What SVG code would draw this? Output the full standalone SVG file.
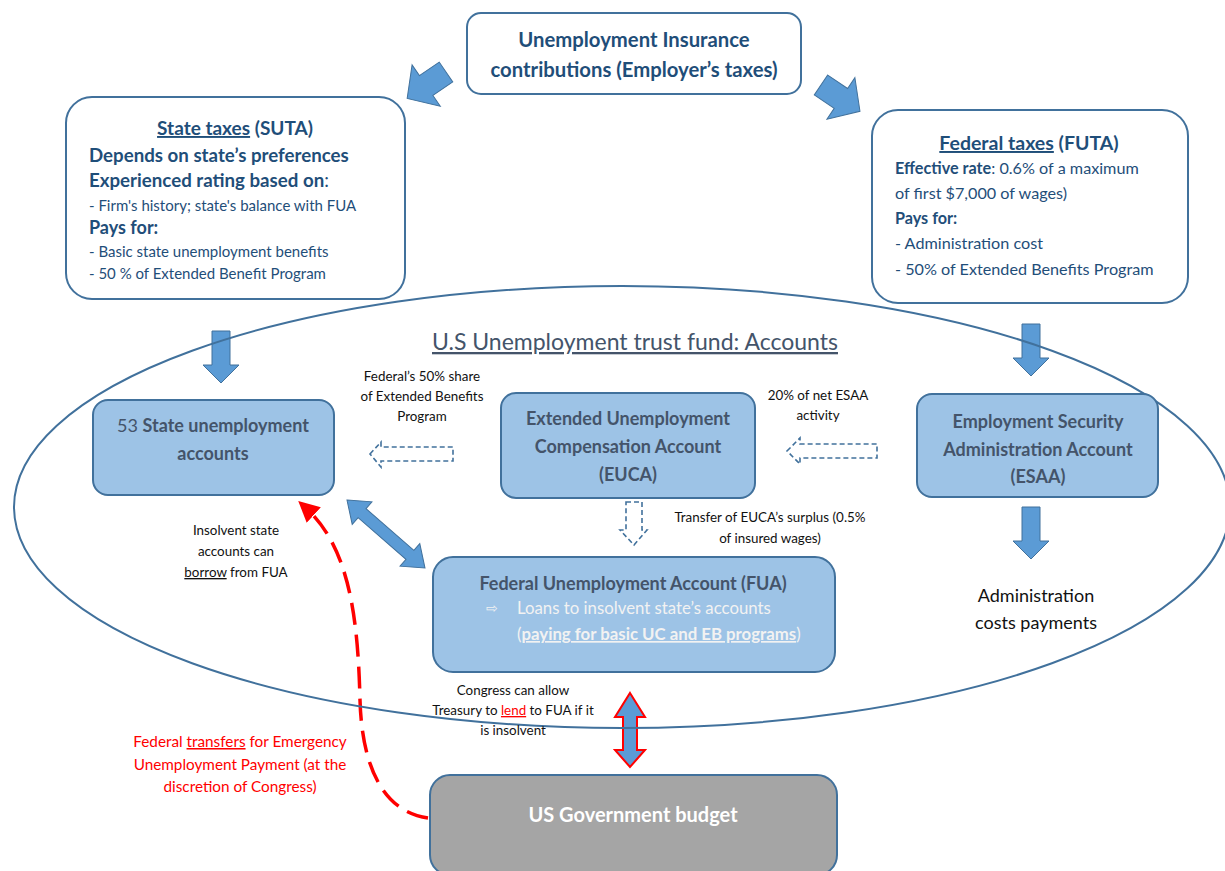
<svg xmlns="http://www.w3.org/2000/svg" width="1225" height="871" viewBox="0 0 1225 871">
  <style>
    text { font-family: Lato, "Liberation Sans", sans-serif; }
    .frame { fill: #ffffff; stroke: #41719C; stroke-width: 2; }
    .acct { fill: #9DC3E6; stroke: #41719C; stroke-width: 2; }
    .budget { fill: #A5A5A5; stroke: #41719C; stroke-width: 2; }
    .navy { fill: #1F4E79; }
    .slate { fill: #44546A; }
    .note { fill: #111111; font-size: 13.4px; }
    .red { fill: #FF0000; }
    .block { fill: #5B9BD5; stroke: #41719C; stroke-width: 1; }
    .hollow { fill: none; stroke: #41719C; stroke-width: 1.6; stroke-dasharray: 5 3; }
    .b { font-weight: bold; }
    .u { text-decoration: underline; }
  </style>
  <defs>
    <!-- short block arrow pointing down, tail at origin -->
    <path id="arrowDown" d="M-9,0 L9,0 L9,34 L18,34 L0,52 L-18,34 L-9,34 Z"/>
    <!-- wide block arrow pointing along +x, tail at origin -->
    <path id="arrowWide" d="M0,-12 L24,-12 L24,-25 L47,0 L24,25 L24,12 L0,12 Z"/>
    <marker id="redHead" markerWidth="6" markerHeight="6" refX="3" refY="3" orient="auto" markerUnits="strokeWidth">
      <path d="M0,0 L6,3 L0,6 Z" fill="#FF0000"/>
    </marker>
  </defs>

  <!-- flows -->
  <g id="connectors">
    <use href="#arrowWide" class="block" transform="translate(446,72) rotate(145.7)"/>
    <use href="#arrowWide" class="block" transform="translate(821,85) rotate(34)"/>
    <use href="#arrowDown" class="block" transform="translate(221,331)"/>
    <use href="#arrowDown" class="block" transform="translate(1031,324)"/>
    <use href="#arrowDown" class="block" transform="translate(1031,507)"/>
    <!-- EUCA to state accounts -->
    <polygon class="hollow" points="370,454 381,442 381,447 453,447 453,461 381,461 381,467"/>
    <!-- ESAA to EUCA -->
    <polygon class="hollow" points="787,451 800,438 800,444 877,444 877,458 800,458 800,464"/>
    <!-- EUCA surplus to FUA -->
    <polygon class="hollow" points="626,502 642,502 642,530 647,530 634,545 620,530 626,530"/>
    <!-- state accounts <-> FUA -->
    <polygon class="block" transform="translate(347,500) rotate(41.1)" points="0,0 20,-15 20,-6 83.5,-6 83.5,-15 103.5,0 83.5,15 83.5,6 20,6 20,15"/>
    <!-- FUA <-> government budget -->
    <polygon fill="#5B9BD5" stroke="#FF0000" stroke-width="2" points="630,693 645,717 637,717 637,750 645,750 630,767 615,750 623,750 623,717 615,717"/>
    <!-- emergency transfers -->
    <path d="M428,818 C385,812 362,770 360,700 C358,620 350,548 306,508" fill="none" stroke="#FF0000" stroke-width="3.5" stroke-dasharray="22 10" marker-end="url(#redHead)"/>
  </g>

  <!-- trust fund boundary -->
  <g id="trust-fund">
    <ellipse cx="622" cy="507" rx="608" ry="221" fill="none" stroke="#41719C" stroke-width="2"/>
    <text x="635" y="350" font-size="23" class="slate u" text-anchor="middle">U.S Unemployment trust fund: Accounts</text>
  </g>

  <g id="contributions">
    <rect class="frame" x="467" y="13" width="334" height="81" rx="14"/>
    <text x="634" y="47" font-size="20.3" class="navy b" text-anchor="middle">Unemployment Insurance</text>
    <text x="634" y="77" font-size="20.3" class="navy b" text-anchor="middle">contributions (Employer’s taxes)</text>
  </g>

  <g id="suta">
    <rect class="frame" x="66" y="97" width="339" height="202" rx="26"/>
    <text x="235" y="135" font-size="19" class="navy b" text-anchor="middle"><tspan class="u">State taxes</tspan> (SUTA)</text>
    <text x="89" y="162" font-size="18.7" class="navy b">Depends on state’s preferences</text>
    <text x="89" y="187" font-size="18.7" class="navy"><tspan class="b">Experienced rating based on</tspan>:</text>
    <text x="89" y="211" font-size="15" class="navy">- Firm's history; state's balance with FUA</text>
    <text x="89" y="234" font-size="18" class="navy b">Pays for:</text>
    <text x="89" y="257" font-size="15" class="navy">- Basic state unemployment benefits</text>
    <text x="89" y="279" font-size="15" class="navy">- 50 % of Extended Benefit Program</text>
  </g>

  <g id="futa">
    <rect class="frame" x="872" y="110" width="316" height="193" rx="26"/>
    <text x="1029" y="150" font-size="19.5" class="navy b" text-anchor="middle"><tspan class="u">Federal taxes</tspan> (FUTA)</text>
    <text x="895" y="174" font-size="16.2" class="navy"><tspan class="b">Effective rate</tspan>: 0.6% of a maximum</text>
    <text x="895" y="199" font-size="16.2" class="navy">of first $7,000 of wages)</text>
    <text x="895" y="224" font-size="16.2" class="navy b">Pays for:</text>
    <text x="895" y="249" font-size="16.2" class="navy">- Administration cost</text>
    <text x="895" y="275" font-size="16.2" class="navy">- 50% of Extended Benefits Program</text>
  </g>

  <g id="state-accounts">
    <rect class="acct" x="93" y="400" width="241" height="95" rx="15"/>
    <text x="213" y="432" font-size="18" class="slate" text-anchor="middle">53 <tspan class="b">State unemployment</tspan></text>
    <text x="213" y="460" font-size="18" class="slate b" text-anchor="middle">accounts</text>
  </g>

  <g id="euca">
    <rect class="acct" x="501" y="393" width="254" height="105" rx="15"/>
    <text x="628" y="425" font-size="18" class="slate b" text-anchor="middle">Extended Unemployment</text>
    <text x="628" y="453" font-size="18" class="slate b" text-anchor="middle">Compensation Account</text>
    <text x="628" y="481" font-size="18" class="slate b" text-anchor="middle">(EUCA)</text>
  </g>

  <g id="esaa">
    <rect class="acct" x="917" y="394" width="241" height="103" rx="15"/>
    <text x="1038" y="428" font-size="18" class="slate b" text-anchor="middle">Employment Security</text>
    <text x="1038" y="456" font-size="18" class="slate b" text-anchor="middle">Administration Account</text>
    <text x="1038" y="483" font-size="18" class="slate b" text-anchor="middle">(ESAA)</text>
  </g>

  <g id="fua">
    <rect class="acct" x="433" y="557" width="402" height="115" rx="20"/>
    <text x="633" y="590" font-size="18" class="slate b" text-anchor="middle">Federal Unemployment Account (FUA)</text>
    <text x="486" y="613" font-size="14" fill="#F2F2F2" font-family="'DejaVu Sans', sans-serif">⇨</text>
    <text x="517" y="614" font-size="16.8" fill="#F2F2F2">Loans to insolvent state’s accounts</text>
    <text x="517" y="640" font-size="16.8" fill="#F2F2F2">(<tspan class="b u">paying for basic UC and EB programs</tspan>)</text>
  </g>

  <g id="budget">
    <rect class="budget" x="430" y="775" width="407" height="100" rx="20"/>
    <text x="633" y="822" font-size="20" fill="#ffffff" class="b" text-anchor="middle">US Government budget</text>
  </g>

  <g id="labels">
    <text class="note" text-anchor="middle"><tspan x="422" y="381">Federal’s 50% share</tspan><tspan x="422" y="401">of Extended Benefits</tspan><tspan x="422" y="421">Program</tspan></text>
    <text class="note" text-anchor="middle"><tspan x="818" y="400">20% of net ESAA</tspan><tspan x="818" y="420">activity</tspan></text>
    <text class="note" text-anchor="middle"><tspan x="770" y="522">Transfer of EUCA’s surplus (0.5%</tspan><tspan x="770" y="543">of insured wages)</tspan></text>
    <text class="note" text-anchor="middle"><tspan x="236" y="535">Insolvent state</tspan><tspan x="236" y="556">accounts can</tspan><tspan x="236" y="577"><tspan class="u">borrow</tspan> from FUA</tspan></text>
    <text class="note" text-anchor="middle"><tspan x="513" y="695">Congress can allow</tspan><tspan x="513" y="715">Treasury to <tspan class="u red">lend</tspan> to FUA if it</tspan><tspan x="513" y="735">is insolvent</tspan></text>
    <text font-size="18" fill="#111111" text-anchor="middle"><tspan x="1036" y="602">Administration</tspan><tspan x="1036" y="629">costs payments</tspan></text>
    <text font-size="15.3" class="red" text-anchor="middle"><tspan x="240" y="747">Federal <tspan class="u">transfers</tspan> for Emergency</tspan><tspan x="240" y="770">Unemployment Payment (at the</tspan><tspan x="240" y="792">discretion of Congress)</tspan></text>
  </g>
</svg>
